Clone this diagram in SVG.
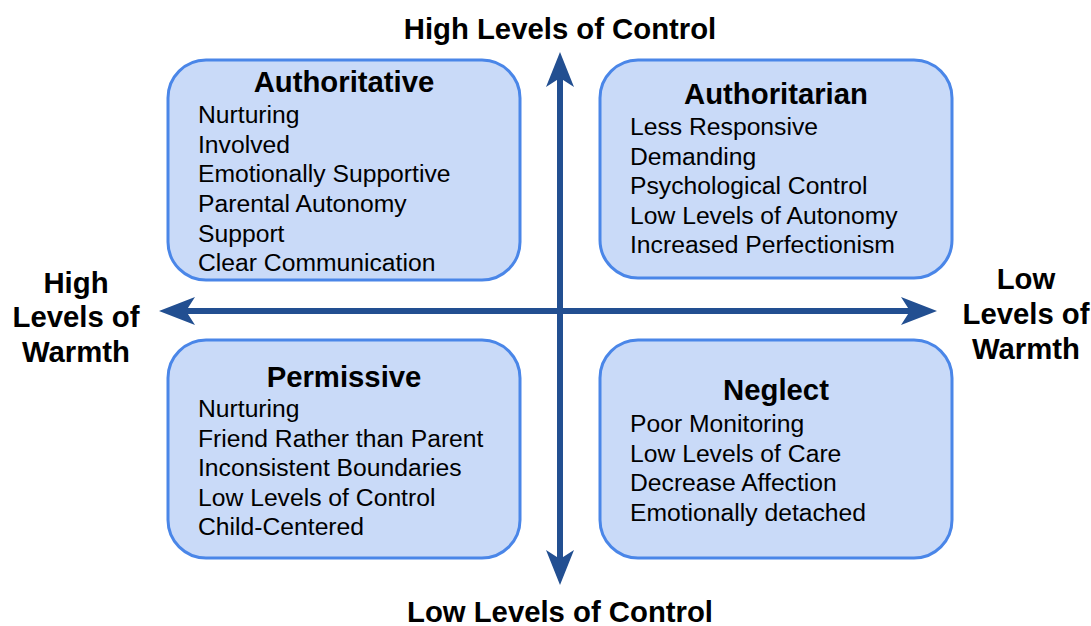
<svg xmlns="http://www.w3.org/2000/svg" width="1091" height="626" viewBox="0 0 1091 626">
<style>
.box{fill:#c9daf8;stroke:#4a86e8;stroke-width:3}
.t{font-family:"Liberation Sans",Arial,sans-serif;font-size:29.3px;font-weight:bold;fill:#000;text-anchor:middle}
.i{font-family:"Liberation Sans",Arial,sans-serif;font-size:24.7px;fill:#000}
.ax{stroke:#224f91;stroke-width:6;fill:none}
.ah{fill:#224f91}
</style>
<rect width="1091" height="626" fill="#fff"/>
<g id="connectors">
<line class="ax" x1="560" y1="76" x2="560" y2="561"/>
<polygon class="ah" points="560,52 574,87 560,78 546,87"/>
<polygon class="ah" points="560,585 574,550 560,559 546,550"/>
<line class="ax" x1="183" y1="311" x2="913" y2="311"/>
<polygon class="ah" points="159,311 195,297 186,311 195,325"/>
<polygon class="ah" points="937,311 901,297 910,311 901,325"/>
</g>
<g id="authoritative">
<rect class="box" x="168" y="60" width="352" height="220" rx="38"/>
<text class="t" x="344" y="92">Authoritative</text>
<text class="i" x="198" y="122.5">Nurturing</text>
<text class="i" x="198" y="152.5">Involved</text>
<text class="i" x="198" y="181.5">Emotionally Supportive</text>
<text class="i" x="198" y="211.5">Parental Autonomy</text>
<text class="i" x="198" y="241.5">Support</text>
<text class="i" x="198" y="270.5">Clear Communication</text>
</g>
<g id="authoritarian">
<rect class="box" x="600" y="60" width="352" height="218" rx="38"/>
<text class="t" x="776" y="104">Authoritarian</text>
<text class="i" x="630" y="134.5">Less Responsive</text>
<text class="i" x="630" y="164.5">Demanding</text>
<text class="i" x="630" y="193.5">Psychological Control</text>
<text class="i" x="630" y="223.5">Low Levels of Autonomy</text>
<text class="i" x="630" y="252.5">Increased Perfectionism</text>
</g>
<g id="permissive">
<rect class="box" x="168" y="340" width="352" height="218" rx="38"/>
<text class="t" x="344" y="387">Permissive</text>
<text class="i" x="198" y="416.5">Nurturing</text>
<text class="i" x="198" y="446.5">Friend Rather than Parent</text>
<text class="i" x="198" y="475.5">Inconsistent Boundaries</text>
<text class="i" x="198" y="505.5">Low Levels of Control</text>
<text class="i" x="198" y="534.5">Child-Centered</text>
</g>
<g id="neglect">
<rect class="box" x="600" y="340" width="352" height="218" rx="38"/>
<text class="t" x="776" y="400">Neglect</text>
<text class="i" x="630" y="431.5">Poor Monitoring</text>
<text class="i" x="630" y="461.5">Low Levels of Care</text>
<text class="i" x="630" y="490.5">Decrease Affection</text>
<text class="i" x="630" y="520.5">Emotionally detached</text>
</g>
<g id="labels">
<text class="t" x="560" y="39">High Levels of Control</text>
<text class="t" x="560" y="622">Low Levels of Control</text>
<text class="t" x="76" y="293">High</text>
<text class="t" x="76" y="327">Levels of</text>
<text class="t" x="76" y="362">Warmth</text>
<text class="t" x="1026" y="289">Low</text>
<text class="t" x="1026" y="324">Levels of</text>
<text class="t" x="1026" y="359">Warmth</text>
</g>
</svg>
